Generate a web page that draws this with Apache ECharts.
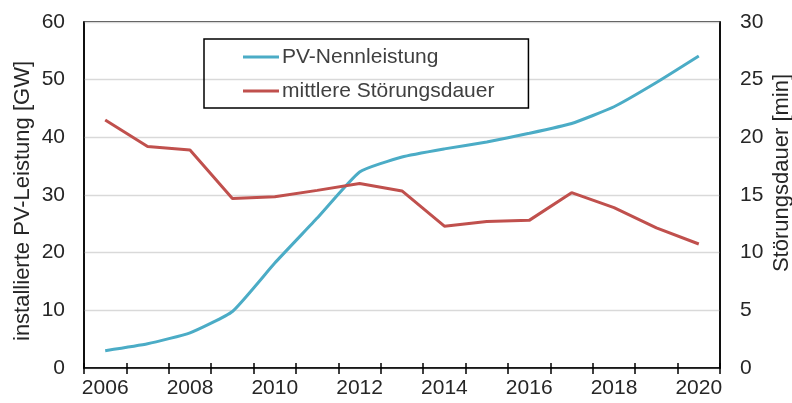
<!DOCTYPE html>
<html>
<head>
<meta charset="utf-8">
<script src="https://cdn.jsdelivr.net/npm/echarts@6/dist/echarts.min.js"></script>
<style>
  html, body { margin: 0; padding: 0; background: #fff; }
  #chart { width: 792px; height: 403px; }
</style>
</head>
<body>
<div id="chart"></div>
<script>
// Jahre
var years = ['2006', '2007', '2008', '2009', '2010', '2011', '2012', '2013',
             '2014', '2015', '2016', '2017', '2018', '2019', '2020'];
// installierte PV-Leistung [GW]
var pvLeistung = [3.0, 4.2, 6.1, 9.8, 18.2, 26.0, 34.0, 36.6, 38.0, 39.2, 40.7, 42.4, 45.3, 49.5, 54.1];
// mittlere Stoerungsdauer [min]
var stoerung = [21.5, 19.2, 18.9, 14.7, 14.85, 15.4, 16.0, 15.35, 12.3, 12.7, 12.8, 15.2, 13.9, 12.15, 10.75];

var font = 'Liberation Sans, Arial, sans-serif';
var txt = '#262626';

var myChart = echarts.init(document.getElementById('chart'));
myChart.setOption({
  animation: false,
  grid: {
    left: 84, right: 72, top: 22, bottom: 35,
    outerBoundsMode: 'none',
    containLabel: false,
    show: true, borderColor: '#000', borderWidth: 1.5
  },
  legend: {
    data: ['PV-Nennleistung', 'mittlere Störungsdauer'],
    orient: 'vertical',
    left: 204, top: 39,
    padding: [7, 34, 6, 39],
    icon: 'rect',
    itemWidth: 36, itemHeight: 3, itemGap: 12,
    borderColor: '#000', borderWidth: 1.5,
    textStyle: { fontFamily: font, fontSize: 21, lineHeight: 22, color: '#404040', padding: [0, 0, 0, -2] }
  },
  xAxis: [
    {
      type: 'category',
      data: years,
      boundaryGap: true,
      axisLine: { lineStyle: { color: '#000', width: 1.5 } },
      axisTick: { show: true, interval: 0, length: 6, lineStyle: { color: '#000', width: 1.5 } },
      axisLabel: { interval: 1, margin: 10, fontFamily: font, fontSize: 21, color: txt },
      splitLine: { show: false }
    },
    {
      type: 'category',
      data: years,
      position: 'bottom',
      boundaryGap: true,
      axisLine: { show: false },
      axisTick: { show: true, inside: true, interval: 0, length: 5, lineStyle: { color: '#000', width: 1.5 } },
      axisLabel: { show: false },
      splitLine: { show: false }
    }
  ],
  yAxis: [
    {
      type: 'value',
      min: 0, max: 60, interval: 10,
      name: 'installierte PV-Leistung [GW]',
      nameLocation: 'middle',
      nameGap: 50,
      nameMoveOverlap: false,
      nameTextStyle: { fontFamily: font, fontSize: 22, color: txt, padding: [0, 12, 0, 0] },
      axisLine: { show: true, lineStyle: { color: '#000', width: 1.5 } },
      axisTick: { show: false },
      axisLabel: { margin: 19, fontFamily: font, fontSize: 21, color: txt },
      splitLine: { show: true, lineStyle: { color: '#d9d9d9', width: 1.3 } }
    },
    {
      type: 'value',
      min: 0, max: 30, interval: 5,
      name: 'Störungsdauer [min]',
      nameLocation: 'middle',
      nameGap: 51,
      nameMoveOverlap: false,
      nameRotate: 90,
      nameTextStyle: { fontFamily: font, fontSize: 22, color: txt, padding: [0, 0, 0, 44] },
      axisLine: { show: true, lineStyle: { color: '#000', width: 1.5 } },
      axisTick: { show: false },
      axisLabel: { margin: 20, fontFamily: font, fontSize: 21, color: txt },
      splitLine: { show: false }
    }
  ],
  series: [
    {
      name: 'PV-Nennleistung',
      type: 'line',
      yAxisIndex: 0,
      data: pvLeistung,
      symbol: 'none',
      smooth: 0.15,
      color: '#4bacc6',
      lineStyle: { width: 3, color: '#4bacc6' }
    },
    {
      name: 'mittlere Störungsdauer',
      type: 'line',
      yAxisIndex: 1,
      data: stoerung,
      symbol: 'none',
      color: '#c0504d',
      lineStyle: { width: 3, color: '#c0504d' }
    }
  ]
});
</script>
</body>
</html>
